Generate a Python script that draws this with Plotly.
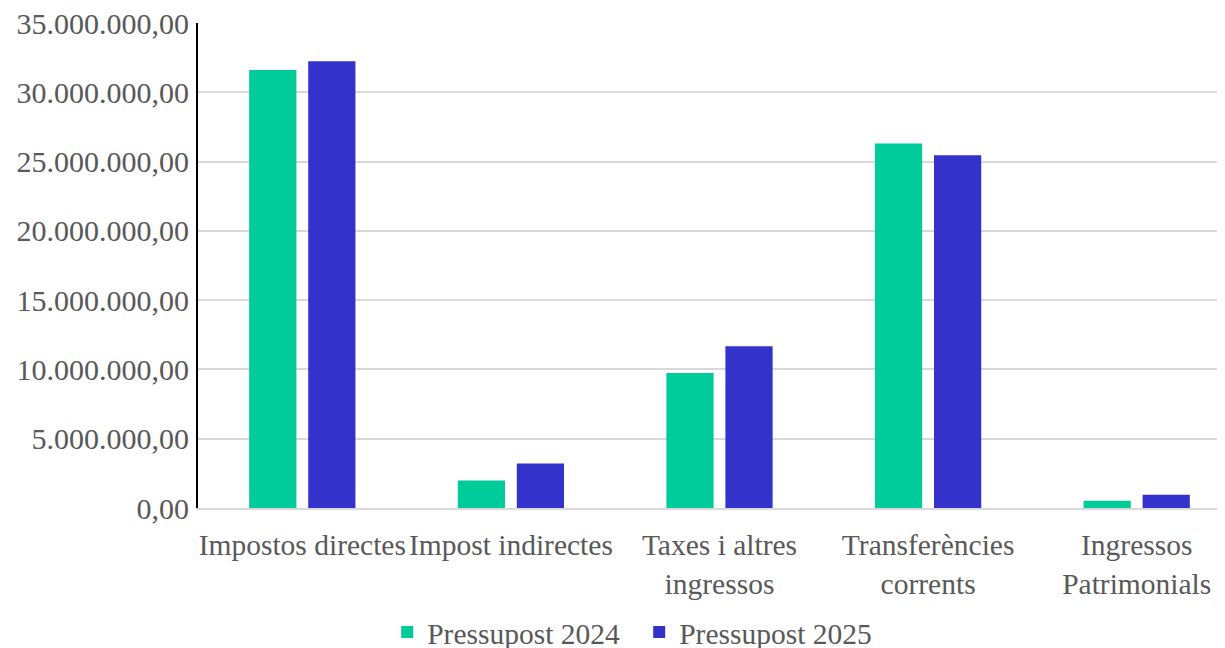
import plotly.graph_objects as go

categories = ["Impostos directes", "Impost indirectes", "Taxes i altres<br>ingressos",
              "Transferències<br>corrents", "Ingressos<br>Patrimonials"]
pressupost_2024 = [31610000, 1980000, 9750000, 26300000, 520000]
pressupost_2025 = [32240000, 3210000, 11670000, 25460000, 950000]
y_ticks = [0, 5000000, 10000000, 15000000, 20000000, 25000000, 30000000, 35000000]

FONT = "Liberation Serif, Times New Roman, serif"
TXT = "#595959"

fig = go.Figure()
fig.add_trace(go.Bar(x=categories, y=pressupost_2024, name="Pressupost 2024",
                     marker=dict(color="#00CC99", line=dict(width=0))))
fig.add_trace(go.Bar(x=categories, y=pressupost_2025, name="Pressupost 2025",
                     marker=dict(color="#3333CC", line=dict(width=0))))

fig.update_layout(
    width=1233, height=656,
    margin=dict(l=190, r=0, t=15, b=155.5),
    paper_bgcolor="white", plot_bgcolor="white",
    barmode="group", bargap=0.434, bargroupgap=0.2,
    separators=",.",
    font=dict(family=FONT, size=29.5, color=TXT),
    legend=dict(orientation="h", x=0.423, xanchor="center", y=-0.2564, yanchor="middle",
                font=dict(family=FONT, size=29.5, color=TXT), itemwidth=30,
                entrywidth=207, traceorder="normal"),
    showlegend=True,
)
fig.update_yaxes(range=[0, 35005000], tickvals=y_ticks, tickformat=",.2f",
                 showgrid=True, gridcolor="#D9D9D9", gridwidth=2,
                 showline=True, linecolor="#000000", linewidth=2,
                 zeroline=False, ticks="", ticklabelstandoff=1, automargin=False,
                 ticklabeloverflow="allow",
                 tickfont=dict(family=FONT, size=30, color=TXT))
fig.update_xaxes(showline=True, linecolor="#D9D9D9", linewidth=2, showgrid=False,
                 ticks="", ticklabelstandoff=10, automargin=False, tickangle=0,
                 tickfont=dict(family=FONT, size=29.5, color=TXT))

fig.write_html("out.html")
